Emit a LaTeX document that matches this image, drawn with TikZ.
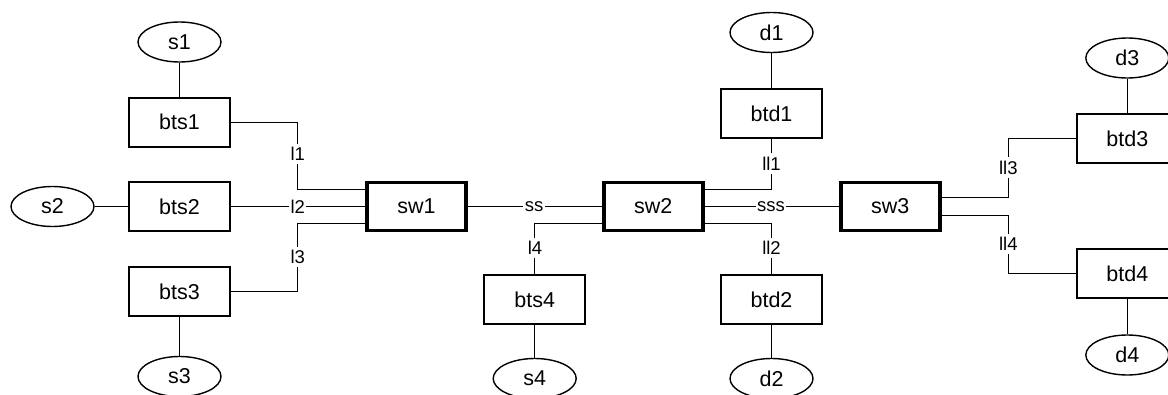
\documentclass[tikz,border=0pt]{standalone}
\usepackage{fontspec}
\setmainfont{Liberation Sans}
\usetikzlibrary{shapes.geometric}
\begin{document}
\begin{tikzpicture}[x=1pt,y=-1pt,
  box/.style={draw,line width=2pt,minimum width=101pt,minimum height=49pt,inner sep=0pt,font=\fontsize{21.5}{25}\selectfont},
  swbox/.style={draw,line width=3.8pt,minimum width=99pt,minimum height=48pt,inner sep=0pt,font=\fontsize{21.5}{25}\selectfont},
  term/.style={draw,ellipse,line width=1.4pt,minimum width=83pt,minimum height=40pt,inner sep=0pt,font=\fontsize{21.5}{25}\selectfont},
  conn/.style={line width=1pt},
  lbl/.style={fill=white,inner xsep=1.5pt,inner ysep=3.5pt,font=\fontsize{18.5}{22}\selectfont}]
\useasboundingbox (0,0) rectangle (1168,394);
% nodes
\node[term] (s1) at (179.5,42) {s1};
\node[box] (bts1) at (179.5,122) {bts1};
\node[box] (bts2) at (179.5,206.5) {bts2};
\node[term] (s2) at (52.5,206.5) {s2};
\node[box] (bts3) at (179.5,291.5) {bts3};
\node[term] (s3) at (179.5,376.5) {s3};
\node[swbox] (sw1) at (416.5,206.5) {sw1};
\node[swbox] (sw2) at (653.3,206.5) {sw2};
\node[swbox] (sw3) at (890.3,206.5) {sw3};
\node[box] (bts4) at (534.7,299.5) {bts4};
\node[term] (s4) at (534.7,378.5) {s4};
\node[term] (d1) at (771.5,32.5) {d1};
\node[box] (btd1) at (771.5,113.5) {btd1};
\node[box] (btd2) at (771.5,299.5) {btd2};
\node[term] (d2) at (771.5,378.5) {d2};
\node[box] (btd3) at (1127.3,138.7) {btd3};
\node[term] (d3) at (1127.3,58) {d3};
\node[box] (btd4) at (1127.3,273.8) {btd4};
\node[term] (d4) at (1127.3,355) {d4};
% bend coordinates
\coordinate (xa) at (297.7,0);
\coordinate (xb) at (1008.3,0);
\coordinate (a1) at ([yshift=17.2pt]sw1.west);
\coordinate (a3) at ([yshift=-16.5pt]sw1.west);
\coordinate (b4) at ([yshift=-16.8pt]sw2.west);
\coordinate (b1) at ([yshift=17.2pt]sw2.east);
\coordinate (b2) at ([yshift=-16.8pt]sw2.east);
\coordinate (c3) at ([yshift=8.8pt]sw3.east);
\coordinate (c4) at ([yshift=-8.5pt]sw3.east);
% connectors
\draw[conn] (s1) -- (bts1);
\draw[conn] (s2) -- (bts2);
\draw[conn] (bts3) -- (s3);
\draw[conn] (bts4) -- (s4);
\draw[conn] (d1) -- (btd1);
\draw[conn] (btd2) -- (d2);
\draw[conn] (d3) -- (btd3);
\draw[conn] (btd4) -- (d4);
\draw[conn] (bts1.east) -| (xa |- a1) -- (a1);
\draw[conn] (bts2.east) -- (sw1.west);
\draw[conn] (a3) -| (xa |- bts3.east) -- (bts3.east);
\draw[conn] (sw1.east) -- (sw2.west);
\draw[conn] (b4) -| (bts4.north);
\draw[conn] (b1) -| (btd1.south);
\draw[conn] (sw2.east) -- (sw3.west);
\draw[conn] (b2) -| (btd2.north);
\draw[conn] (c3) -| (xb |- btd3.west) -- (btd3.west);
\draw[conn] (c4) -| (xb |- btd4.west) -- (btd4.west);
% labels
\node[lbl] (L1) at (297.7,154) {l1};
\node[lbl] (L2) at (297.7,206.5) {l2};
\node[lbl] (L3) at (297.7,257) {l3};
\node[lbl] (LS) at (534,206.5) {ss};
\node[lbl] (L4) at (535,248) {l4};
\node[lbl] (LL1) at (771.5,163.3) {ll1};
\node[lbl] (LSS) at (771,206.5) {sss};
\node[lbl] (LL2) at (771.5,247.7) {ll2};
\node[lbl] (LL3) at (1008.3,167.7) {ll3};
\node[lbl] (LL4) at (1008.3,244) {ll4};
\end{tikzpicture}
\end{document}
